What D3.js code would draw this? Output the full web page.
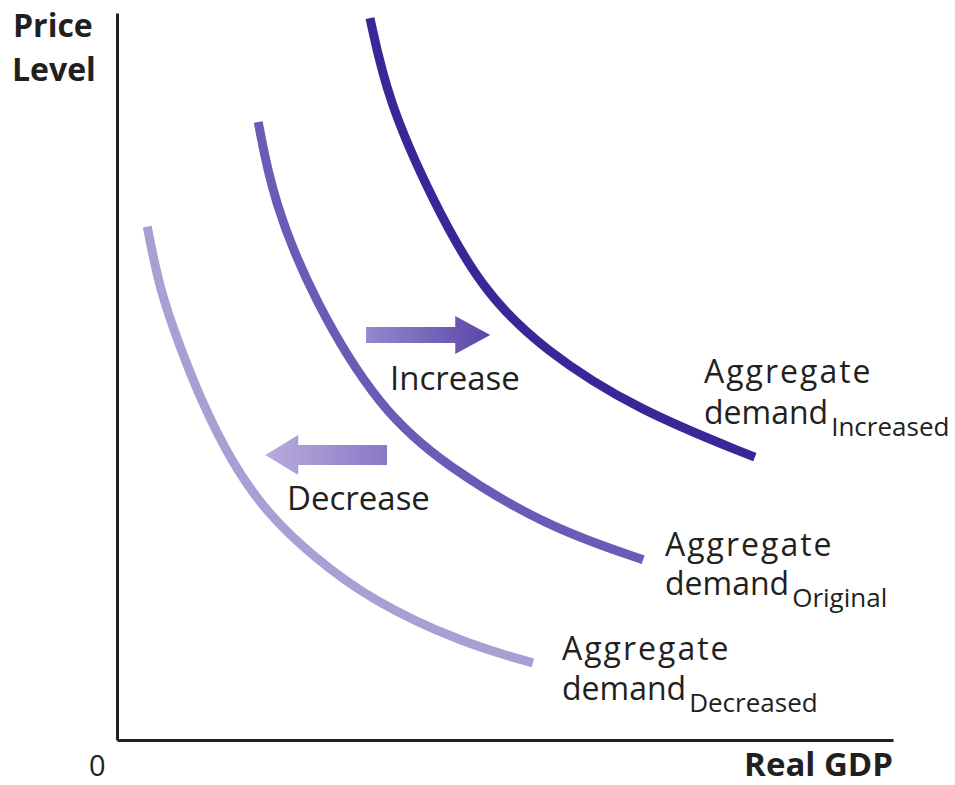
<!DOCTYPE html>
<html>
<head>
<meta charset="utf-8">
<script src="https://cdn.jsdelivr.net/npm/d3@7"></script>
<style>
  html, body { margin: 0; padding: 0; background: #fff; }
  #container { width: 955px; height: 785px; }
  text { font-family: "Open Sans", sans-serif; fill: #231f20; }
</style>
</head>
<body>
<div id="container"></div>
<script>
// curve data in chart units (Real GDP 0..100, Price level 0..100)
const seriesNames = ["Decreased", "Original", "Increased"];
const decreasedGdp = [3.9, 5.5, 8.1, 10.8, 14.6, 19.3, 25.3, 32.6, 44.6, 53.6];
const decreasedPrice = [70.6, 61.9, 54.1, 46.8, 38.5, 31.2, 25.2, 19.3, 13.3, 10.6];
const originalGdp = [18.2, 20.1, 25.3, 33.9, 42.5, 55.4, 67.8];
const originalPrice = [85.0, 74.3, 60.5, 45.4, 37.6, 29.3, 24.8];
const increasedGdp = [32.6, 34.9, 40.6, 47.0, 55.0, 67.0, 82.2];
const increasedPrice = [99.3, 88.0, 74.3, 61.9, 53.6, 45.4, 38.9];

// shift arrows: [gdp start, gdp end, price level]
const increaseArrow = [32.1, 48.1, 55.7];
const decreaseArrow = [34.8, 19.1, 39.2];

const width = document.getElementById("container").clientWidth;
const height = document.getElementById("container").clientHeight;

const svg = d3.select("#container")
    .append("svg")
    .attr("width", width)
    .attr("height", height);

const x = d3.scaleLinear().domain([0, 100]).range([117, 893]);
const y = d3.scaleLinear().domain([0, 100]).range([740, 13]);

const defs = svg.append("defs");

function gradient(id, from, to) {
    const g = defs.append("linearGradient").attr("id", id)
        .attr("x1", "0%").attr("x2", "100%").attr("y1", "0%").attr("y2", "0%");
    g.append("stop").attr("offset", "0%").attr("stop-color", from);
    g.append("stop").attr("offset", "100%").attr("stop-color", to);
}
gradient("incGrad", "#9787cd", "#5a45a9");
gradient("decGrad", "#b8acdc", "#8a78c7");

// axes (no ticks, just the lines)
svg.append("g")
    .attr("transform", `translate(0,${y(0)})`)
    .call(d3.axisBottom(x).tickValues([]).tickSizeOuter(0))
    .select(".domain")
    .attr("stroke", "#231f20")
    .attr("stroke-width", 3);

svg.append("g")
    .attr("transform", `translate(${x(0)},0)`)
    .call(d3.axisLeft(y).tickValues([]).tickSizeOuter(0))
    .select(".domain")
    .attr("stroke", "#231f20")
    .attr("stroke-width", 3);

// demand curves
const curves = [
    { name: seriesNames[0], gdp: decreasedGdp, price: decreasedPrice, color: "#aa9ed3" },
    { name: seriesNames[1], gdp: originalGdp, price: originalPrice, color: "#6b5ab6" },
    { name: seriesNames[2], gdp: increasedGdp, price: increasedPrice, color: "#3a2696" }
];

const line = d3.line()
    .x(d => x(d[0]))
    .y(d => y(d[1]))
    .curve(d3.curveBasis);

svg.append("g")
    .selectAll("path")
    .data(curves)
    .join("path")
    .attr("d", d => line(d3.zip(d.gdp, d.price)))
    .attr("fill", "none")
    .attr("stroke", d => d.color)
    .attr("stroke-width", 9)
    .attr("stroke-linecap", "butt");

// arrows
function arrowPath(a, shaft, head, headLen) {
    const x0 = x(a[0]), x1 = x(a[1]), cy = y(a[2]);
    const dir = x1 > x0 ? 1 : -1;
    const xb = x1 - dir * headLen;
    return `M${x0},${cy - shaft}L${xb},${cy - shaft}L${xb},${cy - head}` +
        `L${x1},${cy}L${xb},${cy + head}L${xb},${cy + shaft}L${x0},${cy + shaft}Z`;
}

svg.append("path")
    .attr("d", arrowPath(increaseArrow, 8, 19, 35))
    .attr("fill", "url(#incGrad)");

svg.append("path")
    .attr("d", arrowPath(decreaseArrow, 10, 20, 33))
    .attr("fill", "url(#decGrad)");

// arrow labels
svg.append("text").attr("x", 390).attr("y", 390)
    .attr("font-size", 33).text("Increase");
svg.append("text").attr("x", 287).attr("y", 510)
    .attr("font-size", 33).text("Decrease");

// curve labels
const labels = [
    { sub: seriesNames[2], x: 704, y1: 383, y2: 424 },
    { sub: seriesNames[1], x: 665, y1: 556, y2: 595 },
    { sub: seriesNames[0], x: 562, y1: 660, y2: 700 }
];

labels.forEach(l => {
    svg.append("text").attr("x", l.x).attr("y", l.y1)
        .attr("font-size", 32).attr("letter-spacing", 2).text("Aggregate");
    const t = svg.append("text").attr("x", l.x).attr("y", l.y2).attr("font-size", 32);
    t.append("tspan").text("demand");
    t.append("tspan").attr("dx", 3).attr("dy", 12)
        .attr("font-size", 26).text(l.sub);
});

// axis titles
svg.append("text").attr("x", 13).attr("y", 37)
    .attr("font-size", 32).attr("font-weight", "bold").text("Price");
svg.append("text").attr("x", 12).attr("y", 81)
    .attr("font-size", 32).attr("font-weight", "bold").text("Level");
svg.append("text").attr("x", 893).attr("y", 776).attr("text-anchor", "end")
    .attr("font-size", 33).attr("font-weight", "bold").text("Real GDP");
svg.append("text").attr("x", 89).attr("y", 776)
    .attr("font-size", 29).text("0");
</script>
</body>
</html>
